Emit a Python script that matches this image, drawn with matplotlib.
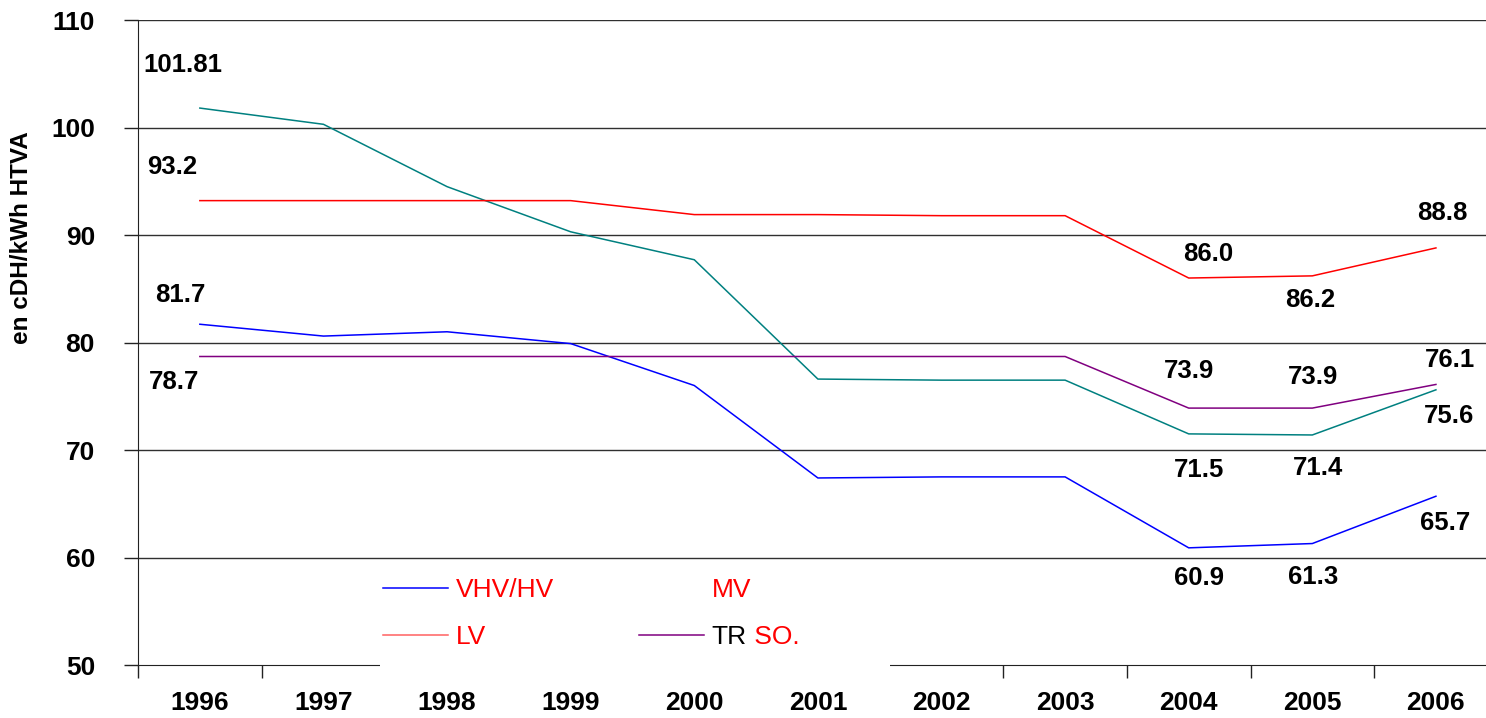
import matplotlib.pyplot as plt
from matplotlib.lines import Line2D
from matplotlib.patches import Rectangle

plt.rcParams['font.family'] = ['Liberation Sans', 'DejaVu Sans']

years = ['1996', '1997', '1998', '1999', '2000', '2001', '2002', '2003', '2004', '2005', '2006']
vhv_hv = [81.7, 80.6, 81.0, 79.9, 76.0, 67.4, 67.5, 67.5, 60.9, 61.3, 65.7]
mv = [101.81, 100.3, 94.5, 90.3, 87.7, 76.6, 76.5, 76.5, 71.5, 71.4, 75.6]
lv = [93.2, 93.2, 93.2, 93.2, 91.9, 91.9, 91.8, 91.8, 86.0, 86.2, 88.8]
tr_so = [78.7, 78.7, 78.7, 78.7, 78.7, 78.7, 78.7, 78.7, 73.9, 73.9, 76.1]

x = list(range(len(years)))

fig = plt.figure(figsize=(14.86, 7.18), dpi=100)
ax = fig.add_axes([0.0929, 0.0738, 0.915, 0.8983])

ax.plot(x, vhv_hv, color='#0000FF', lw=1.1, label='VHV/HV', zorder=3)
ax.plot(x, mv, color='#008080', lw=1.1, label='MV', zorder=3)
ax.plot(x, lv, color='#FF0000', lw=1.1, label='LV', zorder=3)
ax.plot(x, tr_so, color='#800080', lw=1.1, label='TR SO.', zorder=3)

ax.set_xlim(-0.5, 10.5)
ax.set_ylim(50, 110)
ax.set_yticks(range(50, 111, 10))
ax.set_yticklabels([str(v) for v in range(50, 111, 10)], fontsize=19, fontweight='bold')
for v in range(60, 111, 10):
    ax.axhline(v, color='#303030', lw=1, zorder=1)

# tick marks at category boundaries, labels centred
ax.set_xticks([i - 0.5 for i in range(len(years) + 1)])
ax.set_xticklabels([])
ax.set_xticks(x, minor=True)
ax.set_xticklabels(years, minor=True, fontsize=19, fontweight='bold')
ax.tick_params(axis='x', which='minor', length=0, pad=19)
ax.tick_params(axis='x', which='major', length=9, width=1, color='#222222')
ax.tick_params(axis='y', length=10, width=1, color='#222222', pad=21)
fig.text(22 / 1486, 1 - 238 / 718, 'en cDH/kWh HTVA', rotation=90, ha='center', va='center',
         fontsize=17.5, fontweight='bold')

for s in ['top', 'right']:
    ax.spines[s].set_visible(False)
ax.spines['left'].set_color('#222222')
ax.spines['bottom'].set_color('#222222')

# value labels: (series, index, dx px, dy px)
labels = [
    (mv, 0, -17, 43), (lv, 0, -28, 34), (vhv_hv, 0, -20, 29), (tr_so, 0, -26, -26),
    (lv, 8, 19, 24), (lv, 9, -2, -24), (lv, 10, 6, 35),
    (tr_so, 8, 0, 37), (tr_so, 9, 1, 31), (tr_so, 10, 14, 24),
    (mv, 8, 10, -36), (mv, 9, 6, -33), (mv, 10, 13, -26),
    (vhv_hv, 8, 10, -30), (vhv_hv, 9, 1, -33), (vhv_hv, 10, 9, -27),
]
for series, i, dx, dy in labels:
    v = series[i]
    txt = f'{v:.2f}' if v == 101.81 else f'{v:.1f}'
    ax.annotate(txt, (x[i], v), xytext=(dx, dy), textcoords='offset pixels',
                ha='center', va='center', fontsize=18.5, fontweight='bold', zorder=6)

# white legend area covering the axis line
ax.add_patch(Rectangle((0.178, -0.04), 0.375, 0.2, transform=ax.transAxes,
                       facecolor='white', edgecolor='none', clip_on=False, zorder=4))

handles = [Line2D([], [], color='#0000FF', lw=1.1),
           Line2D([], [], color='#FF6060', lw=1.1),
           Line2D([], [], color='none'),
           Line2D([], [], color='#800080', lw=1.1)]
names = ['VHV/HV', 'LV', 'MV', 'TR']
leg = ax.legend(handles, names, ncol=2, frameon=False, fontsize=19,
                loc='lower left', bbox_to_anchor=(0.163, -0.012), handlelength=2.46,
                handletextpad=0.3, columnspacing=3.2, labelspacing=0.87)
leg.set_zorder(5)
texts = leg.get_texts()
for t, c in zip(texts, ['red', 'red', 'red', 'black']):
    t.set_color(c)
ax.annotate(' SO.', xy=(1, 0), xycoords=texts[3], va='bottom', ha='left',
            fontsize=19, color='red', zorder=6)

fig.savefig('out.png', dpi=100)
